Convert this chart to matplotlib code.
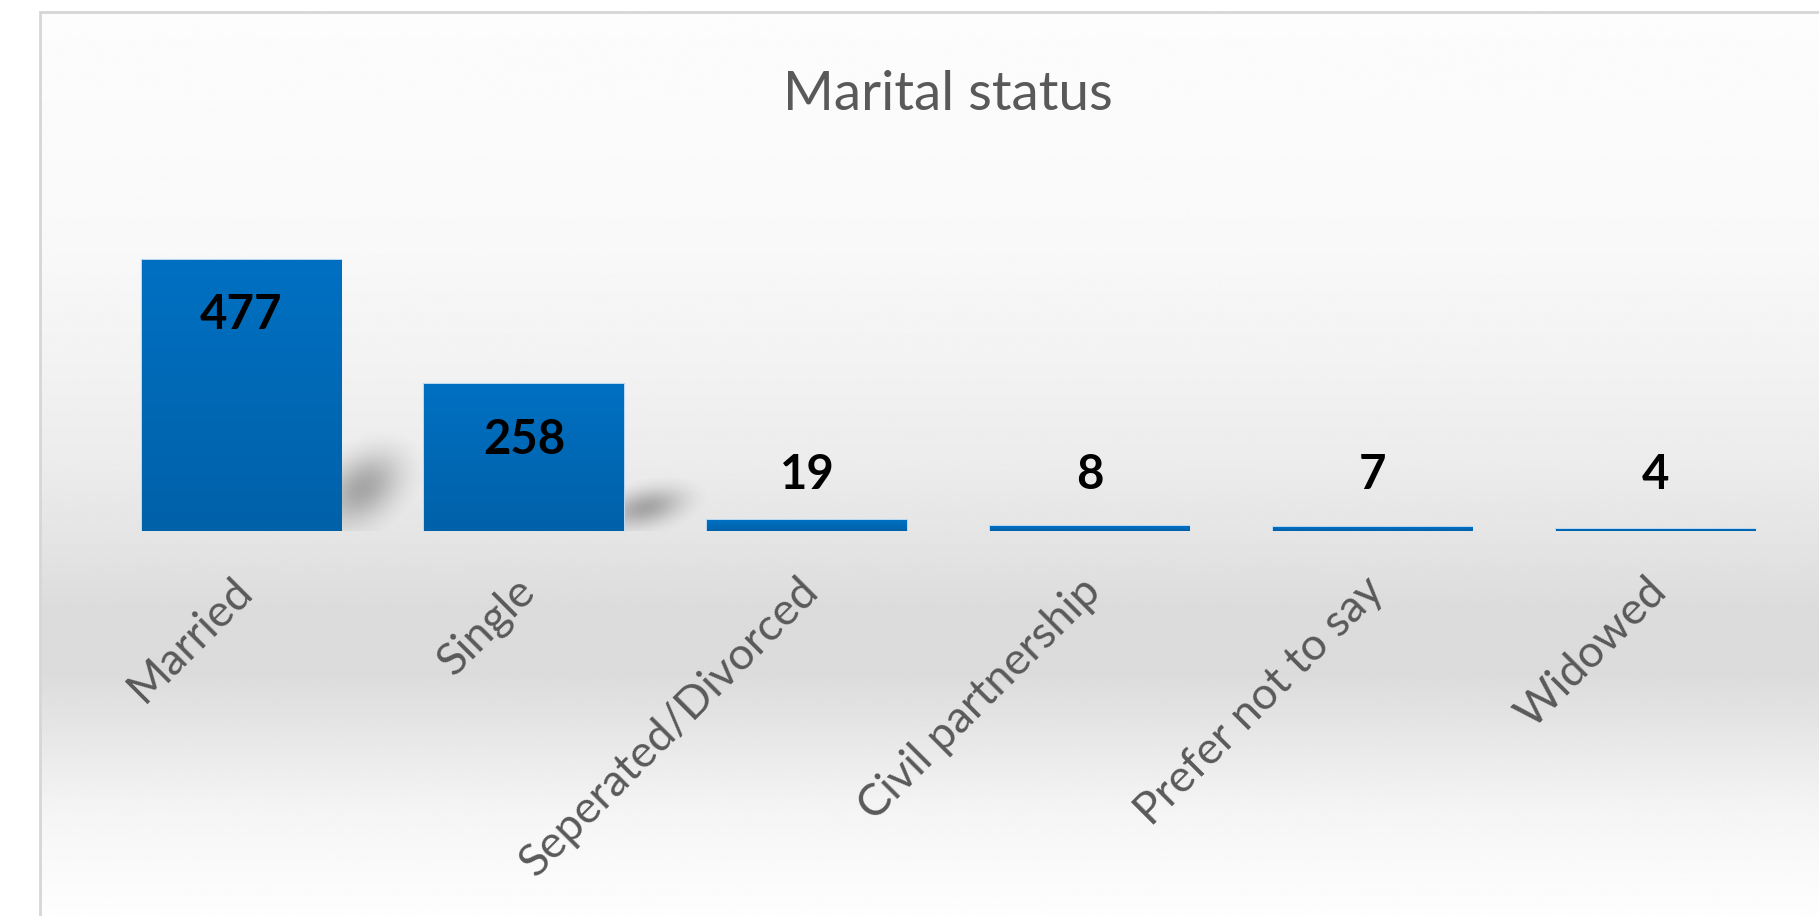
import numpy as np
import matplotlib
matplotlib.use("Agg")
import matplotlib.pyplot as plt
from matplotlib.patches import Rectangle
from matplotlib.colors import LinearSegmentedColormap
from matplotlib.transforms import offset_copy

categories = ["Married", "Single", "Seperated/Divorced", "Civil partnership",
              "Prefer not to say", "Widowed"]
counts = [477, 258, 19, 8, 7, 4]
title = "Marital status"

W, H = 1819, 916
fig = plt.figure(figsize=(W / 100, H / 100), dpi=100)
fig.patch.set_facecolor("white")

# chart area background: vertical grey gradient (light - darker - light)
bg = fig.add_axes([40 / W, 0, 1 - 40 / W, 1 - 12 / H])
bg.set_axis_off()
stops_y = [0, 230, 330, 450, 530, 600, 660, 730, 800, 904]   # px from top of frame
stops_v = [0.99, 0.975, 0.955, 0.925, 0.895, 0.86, 0.86, 0.91, 0.96, 0.995]
yy = np.linspace(0, 904, 400)
grad = np.interp(yy, stops_y, stops_v)
bg.imshow(np.repeat(grad[:, None], 2, axis=1), cmap="gray", vmin=0, vmax=1,
          aspect="auto", extent=[0, 1, 0, 1], interpolation="bilinear")
bg.set_xlim(0, 1)
bg.set_ylim(0, 1)
fig.patches.append(Rectangle((40 / W, -0.01), 1.0, 1 - 12 / H + 0.01,
                             transform=fig.transFigure, fill=False,
                             edgecolor="#d6d6d6", linewidth=2))

ax = fig.add_axes([0.0549, 0.4203, 0.9328, 0.416])
ax.patch.set_alpha(0)
x = np.arange(len(categories))

# soft shadow to the right of the taller bars (low, leaning to the right)
gx = np.linspace(-1, 1, 80)
GX, GY = np.meshgrid(gx, gx)
blob = np.exp(-((GX + 0.35 + 0.35 * GY) ** 2 * 3.2 + (GY - 0.25) ** 2 * 2.6))
blob = np.clip((blob - blob.min()) / (blob.max() - blob.min()) - 0.06, 0, None)
for xi, v in zip(x, counts):
    if v < 50:
        continue
    rgba = np.zeros((80, 80, 4))
    rgba[..., :3] = 0.45
    rgba[..., 3] = 0.6 * blob
    ax.imshow(rgba, extent=[xi + 0.3, xi + 0.75, 0, v * 0.42],
              aspect="auto", zorder=1, interpolation="bilinear")

bars = ax.bar(x, counts, width=0.705, color="#006abb",
              edgecolor="#b9d7f0", linewidth=1.5, zorder=3)

# bar gradient (slightly darker at the bottom)
bar_cmap = LinearSegmentedColormap.from_list("b", ["#0061a9", "#0070c2"])
for b in bars:
    im = ax.imshow(np.linspace(0, 1, 100)[:, None], cmap=bar_cmap, aspect="auto",
                   zorder=3.5, origin="lower",
                   extent=[b.get_x(), b.get_x() + b.get_width(), 0, b.get_height()])
    im.set_clip_path(b)

ax.set_xlim(-0.5, len(categories) - 0.5)
ax.set_ylim(0, 670)

# data labels: inside end, pushed up above the base when the bar is too short
off = 98
for xi, v in zip(x, counts):
    ax.text(xi, max(v - off, off), str(v), ha="center", va="center",
            fontsize=34, fontweight="bold", color="black", zorder=5,
            family=["Liberation Sans Narrow", "Lato", "DejaVu Sans"])

ax.set_xticks(x)
ax.set_xticklabels([])
ax.set_yticks([])
ax.tick_params(length=0)
for s in ax.spines.values():
    s.set_visible(False)

lab_tr = offset_copy(ax.get_xaxis_transform(), fig=fig, x=-7, y=-28, units="points")
for xi, c in zip(x, categories):
    ax.text(xi, 0, c, transform=lab_tr, rotation=45, rotation_mode="anchor",
            ha="right", va="top", fontsize=32.5, color="#595959",
            family=["Lato", "DejaVu Sans"])

fig.text(948 / W, 1 - 94 / H, title, ha="center", va="center", fontsize=39.5,
         color="#595959", family=["Lato", "DejaVu Sans"])

fig.savefig("out.png", dpi=100)
